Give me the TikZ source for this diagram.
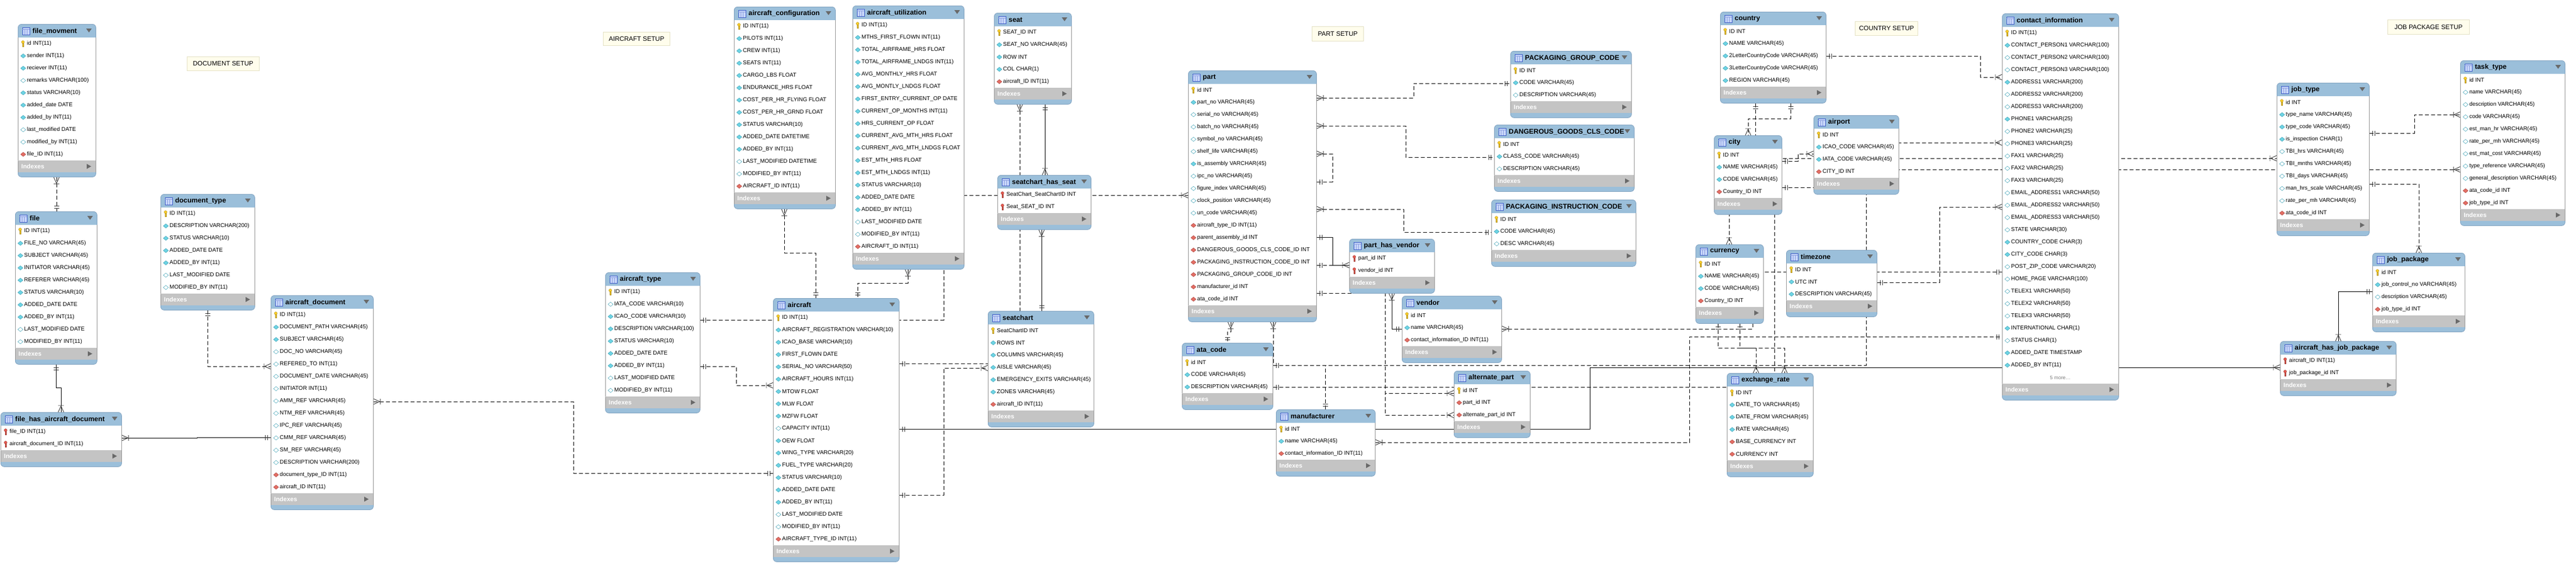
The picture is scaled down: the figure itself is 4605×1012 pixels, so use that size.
\documentclass[tikz,border=0pt]{standalone}
\usepackage{fontspec}
\setmainfont{Liberation Sans}
\usetikzlibrary{calc}
\definecolor{hdrblue}{RGB}{155,191,218}
\definecolor{tblborder}{RGB}{128,162,192}
\definecolor{sideborder}{RGB}{150,150,150}
\definecolor{idxgray}{RGB}{196,196,196}
\definecolor{trigray}{RGB}{105,105,105}
\definecolor{notefill}{RGB}{255,253,236}
\definecolor{noteborder}{RGB}{228,225,196}
\definecolor{keyY}{RGB}{250,205,40}
\definecolor{keyR}{RGB}{228,88,78}
\definecolor{dmN}{RGB}{110,212,228}
\definecolor{dmNd}{RGB}{60,160,180}
\definecolor{dmF}{RGB}{228,110,100}
\definecolor{dmFd}{RGB}{170,70,65}
\definecolor{icnblue}{RGB}{60,90,200}
\definecolor{icnfill}{RGB}{200,215,250}
\definecolor{mkgray}{RGB}{55,55,55}

\pgfdeclarelayer{bgl}
\pgfdeclarelayer{connl}
\pgfsetlayers{bgl,connl,main}

\tikzset{
  tblbox/.style={draw=tblborder, fill=hdrblue, rounded corners=6pt, line width=0.8pt, inner sep=0pt},
  rowtxt/.style={anchor=west, inner sep=0pt, font=\fontsize{10}{12}\selectfont},
  ttltxt/.style={anchor=west, inner sep=0pt, font=\bfseries\fontsize{12.3}{14}\selectfont},
  idxtxt/.style={anchor=west, inner sep=0pt, text=white, font=\bfseries\fontsize{11}{13}\selectfont},
  notebox/.style={draw=noteborder, fill=notefill, line width=0.8pt, inner sep=0pt, font=\fontsize{11.5}{13}\selectfont},
  conn/.style={draw=black, line width=0.9pt},
  connd/.style={conn, dash pattern=on 7pt off 4pt},
  mkline/.style={draw=mkgray, line width=0.9pt, solid},
  ermone/.pic={\draw[mkline] (-6,-4.5) -- (-6,4.5) (-10,-4.5) -- (-10,4.5);},
  ermany/.pic={\draw[mkline] (-11,0) -- (0,-5) (-11,0) -- (0,5) (-12,-5) -- (-12,5);},
}

\newcommand\erKey[3]{%
  \filldraw[fill=#3,draw=#3!70!black,line width=0.4pt] (#1-1.1,#2-1) rectangle (#1+1.1,#2+5);
  \filldraw[fill=#3,draw=#3!70!black,line width=0.4pt] (#1,#2-2.8) circle[radius=2.6];}
\newcommand\erDia[4]{%
  \filldraw[fill=#3,draw=#4,line width=0.5pt] (#1,#2-3.8) -- (#1+4.5,#2) -- (#1,#2+3.8) -- (#1-4.5,#2) -- cycle;}
\newcommand\erRowk[4]{\erKey{#1+9}{#2}{keyY}\node[rowtxt] at (#1+16,#2) {#4};}
\newcommand\erRowr[4]{\erKey{#1+9}{#2}{keyR}\node[rowtxt] at (#1+16,#2) {#4};}
\newcommand\erRown[4]{\erDia{#1+9.5}{#2}{dmN}{dmNd}\node[rowtxt] at (#1+16,#2) {#4};}
\newcommand\erRowo[4]{\erDia{#1+9.5}{#2}{white}{dmNd}\node[rowtxt] at (#1+16,#2) {#4};}
\newcommand\erRowf[4]{\erDia{#1+9.5}{#2}{dmF}{dmFd}\node[rowtxt] at (#1+16,#2) {#4};}
\newcommand\erRowm[4]{\node[rowtxt,anchor=center,text=gray,font=\fontsize{9}{11}\selectfont] at (#1+#3/2,#2) {#4};}

\newcommand\erTable[6]{%
  \foreach \ty/\tx [count=\ii] in {#6} {\xdef\erN{\ii}}%
  \pgfmathsetmacro\erRB{24+22*\erN}%
  \pgfmathsetmacro\erHH{\erRB+29}%
  \node[tblbox, minimum width=#4pt, minimum height=\erHH pt, anchor=north west] (#1) at (#2,#3) {};
  \fill[white] (#2,#3+24) rectangle (#2+#4,#3+\erRB);
  \fill[idxgray] (#2,#3+\erRB) rectangle (#2+#4,#3+\erRB+21);
  \draw[sideborder,line width=0.8pt] (#2,#3+24) -- (#2,#3+\erRB+21) (#2+#4,#3+24) -- (#2+#4,#3+\erRB+21);
  \draw[sideborder!60!white,line width=0.5pt] (#2,#3+\erRB) -- (#2+#4,#3+\erRB);
  \node[idxtxt] at (#2+6,#3+\erRB+10.5) {Indexes};
  \fill[trigray] (#2+#4-16,#3+\erRB+6) -- (#2+#4-8,#3+\erRB+10.5) -- (#2+#4-16,#3+\erRB+15) -- cycle;
  \filldraw[fill=icnfill,draw=icnblue,line width=0.6pt] (#2+8,#3+6) rectangle (#2+21,#3+19);
  \draw[icnblue!60!white,line width=0.4pt] (#2+8,#3+9.5) -- (#2+21,#3+9.5) (#2+12.3,#3+9.5) -- (#2+12.3,#3+19) (#2+16.6,#3+9.5) -- (#2+16.6,#3+19);
  \node[ttltxt] at (#2+26,#3+12.5) {#5};
  \fill[trigray] (#2+#4-17,#3+8) -- (#2+#4-7,#3+8) -- (#2+#4-12,#3+15) -- cycle;
  \foreach \ty/\tx [count=\ii] in {#6} {%
    \pgfmathsetmacro\erYC{#3+24+22*\ii-11}%
    \csname erRow\ty\endcsname{#2}{\erYC}{#4}{\tx}%
  }%
}
\newcommand\mko[2]{\pic[rotate=#2] at #1 {ermone};}
\newcommand\mkm[2]{\pic[rotate=#2] at #1 {ermany};}

\begin{document}
\catcode`\_=12
\begin{tikzpicture}[x=1pt,y=-1pt]
\useasboundingbox (0,0) rectangle (4605,1012);
\begin{pgfonlayer}{bgl}\fill[white] (0,0) rectangle (4605,1012);\end{pgfonlayer}

% ---------------- notes
\node[notebox, minimum width=129pt, minimum height=25pt, anchor=north west] (ndoc) at (334,101) {DOCUMENT SETUP};
\node[notebox, minimum width=119pt, minimum height=24pt, anchor=north west] (nair) at (1078,57) {AIRCRAFT SETUP};
\node[notebox, minimum width=92pt, minimum height=26pt, anchor=north west] (npart) at (2345,47) {PART SETUP};
\node[notebox, minimum width=112pt, minimum height=25pt, anchor=north west] (ncountry) at (3316,38) {COUNTRY SETUP};
\node[notebox, minimum width=146pt, minimum height=26pt, anchor=north west] (njob) at (4268,35) {JOB PACKAGE SETUP};

% ---------------- document setup
\erTable{filemov}{32}{43}{139}{file_movment}{k/id INT(11), n/sender INT(11), n/reciever INT(11), o/remarks VARCHAR(100), n/status VARCHAR(10), n/added_date DATE, n/added_by INT(11), o/last_modified DATE, o/modified_by INT(11), f/file_ID INT(11)}
\erTable{file}{27}{378}{146}{file}{k/ID INT(11), n/FILE_NO VARCHAR(45), n/SUBJECT VARCHAR(45), n/INITIATOR VARCHAR(45), n/REFERER VARCHAR(45), n/STATUS VARCHAR(10), n/ADDED_DATE DATE, n/ADDED_BY INT(11), o/LAST_MODIFIED DATE, o/MODIFIED_BY INT(11)}
\erTable{fhad}{1}{737}{216}{file_has_aircraft_document}{r/file_ID INT(11), r/aircraft_document_ID INT(11)}
\erTable{doctype}{287}{347}{168}{document_type}{k/ID INT(11), n/DESCRIPTION VARCHAR(200), n/STATUS VARCHAR(10), n/ADDED_DATE DATE, n/ADDED_BY INT(11), o/LAST_MODIFIED DATE, o/MODIFIED_BY INT(11)}
\erTable{acdoc}{484}{528}{183}{aircraft_document}{k/ID INT(11), n/DOCUMENT_PATH VARCHAR(45), n/SUBJECT VARCHAR(45), o/DOC_NO VARCHAR(45), o/REFERED_TO INT(11), o/DOCUMENT_DATE VARCHAR(45), o/INITIATOR INT(11), o/AMM_REF VARCHAR(45), o/NTM_REF VARCHAR(45), o/IPC_REF VARCHAR(45), o/CMM_REF VARCHAR(45), o/SM_REF VARCHAR(45), o/DESCRIPTION VARCHAR(200), f/document_type_ID INT(11), f/aircraft_ID INT(11)}

% ---------------- aircraft setup
\erTable{acconf}{1312}{12}{181}{aircraft_configuration}{k/ID INT(11), n/PILOTS INT(11), n/CREW INT(11), n/SEATS INT(11), n/CARGO_LBS FLOAT, n/ENDURANCE_HRS FLOAT, n/COST_PER_HR_FLYING FLOAT, n/COST_PER_HR_GRND FLOAT, n/STATUS VARCHAR(10), n/ADDED_DATE DATETIME, n/ADDED_BY INT(11), o/LAST_MODIFIED DATETIME, o/MODIFIED_BY INT(11), f/AIRCRAFT_ID INT(11)}
\erTable{acutil}{1524}{10}{199}{aircraft_utilization}{k/ID INT(11), n/MTHS_FIRST_FLOWN INT(11), n/TOTAL_AIRFRAME_HRS FLOAT, n/TOTAL_AIRFRAME_LNDGS INT(11), n/AVG_MONTHLY_HRS FLOAT, n/AVG_MONTLY_LNDGS FLOAT, n/FIRST_ENTRY_CURRENT_OP DATE, n/CURRENT_OP_MONTHS INT(11), n/HRS_CURRENT_OP FLOAT, n/CURRENT_AVG_MTH_HRS FLOAT, n/CURRENT_AVG_MTH_LNDGS FLOAT, n/EST_MTH_HRS FLOAT, n/EST_MTH_LNDGS INT(11), n/STATUS VARCHAR(10), n/ADDED_DATE DATE, n/ADDED_BY INT(11), o/LAST_MODIFIED DATE, o/MODIFIED_BY INT(11), f/AIRCRAFT_ID INT(11)}
\erTable{actype}{1082}{487}{169}{aircraft_type}{k/ID INT(11), o/IATA_CODE VARCHAR(10), n/ICAO_CODE VARCHAR(10), n/DESCRIPTION VARCHAR(100), n/STATUS VARCHAR(10), n/ADDED_DATE DATE, n/ADDED_BY INT(11), o/LAST_MODIFIED DATE, o/MODIFIED_BY INT(11)}
\erTable{aircraft}{1382}{533}{225}{aircraft}{k/ID INT(11), n/AIRCRAFT_REGISTRATION VARCHAR(10), n/ICAO_BASE VARCHAR(10), n/FIRST_FLOWN DATE, n/SERIAL_NO VARCHAR(50), n/AIRCRAFT_HOURS INT(11), n/MTOW FLOAT, n/MLW FLOAT, n/MZFW FLOAT, o/CAPACITY INT(11), n/OEW FLOAT, n/WING_TYPE VARCHAR(20), n/FUEL_TYPE VARCHAR(20), n/STATUS VARCHAR(10), n/ADDED_DATE DATE, n/ADDED_BY INT(11), o/LAST_MODIFIED DATE, o/MODIFIED_BY INT(11), f/AIRCRAFT_TYPE_ID INT(11)}
\erTable{seat}{1777}{23}{138}{seat}{k/SEAT_ID INT, n/SEAT_NO VARCHAR(45), n/ROW INT, n/COL CHAR(1), f/aircraft_ID INT(11)}
\erTable{phs}{1783}{313}{167}{seatchart_has_seat}{r/SeatChart_SeatChartID INT, r/Seat_SEAT_ID INT}
\erTable{seatchart}{1766}{556}{189}{seatchart}{k/SeatChartID INT, n/ROWS INT, n/COLUMNS VARCHAR(45), n/AISLE VARCHAR(45), n/EMERGENCY_EXITS VARCHAR(45), n/ZONES VARCHAR(45), f/aircraft_ID INT(11)}

% ---------------- part setup
\erTable{part}{2124}{126}{229}{part}{k/id INT, n/part_no VARCHAR(45), o/serial_no VARCHAR(45), o/batch_no VARCHAR(45), o/symbol_no VARCHAR(45), o/shelf_life VARCHAR(45), n/is_assembly VARCHAR(45), o/ipc_no VARCHAR(45), o/figure_index VARCHAR(45), o/clock_position VARCHAR(45), o/un_code VARCHAR(45), f/aircraft_type_ID INT(11), f/parent_assembly_id INT, f/DANGEROUS_GOODS_CLS_CODE_ID INT, f/PACKAGING_INSTRUCTION_CODE_ID INT, f/PACKAGING_GROUP_CODE_ID INT, f/manufacturer_id INT, f/ata_code_id INT}
\erTable{ata}{2113}{613}{162}{ata_code}{k/id INT, n/CODE VARCHAR(45), n/DESCRIPTION VARCHAR(45)}
\erTable{pgc}{2700}{91}{216}{PACKAGING_GROUP_CODE}{k/ID INT, n/CODE VARCHAR(45), o/DESCRIPTION VARCHAR(45)}
\erTable{dgcc}{2671}{223}{250}{DANGEROUS_GOODS_CLS_CODE}{k/ID INT, n/CLASS_CODE VARCHAR(45), o/DESCRIPTION VARCHAR(45)}
\erTable{pic}{2666}{357}{258}{PACKAGING_INSTRUCTION_CODE}{k/ID INT, n/CODE VARCHAR(45), o/DESC VARCHAR(45)}
\erTable{phv}{2412}{427}{152}{part_has_vendor}{r/part_id INT, r/vendor_id INT}
\erTable{vendor}{2506}{529}{178}{vendor}{k/id INT, n/name VARCHAR(45), f/contact_information_ID INT(11)}
\erTable{altpart}{2599}{663}{136}{alternate_part}{k/id INT, f/part_id INT, f/alternate_part_id INT}
\erTable{manuf}{2281}{732}{177}{manufacturer}{k/id INT, n/name VARCHAR(45), f/contact_information_ID INT(11)}

% ---------------- country setup
\erTable{country}{3075}{21}{189}{country}{k/ID INT, n/NAME VARCHAR(45), n/2LetterCountryCode VARCHAR(45), n/3LetterCountryCode VARCHAR(45), n/REGION VARCHAR(45)}
\erTable{city}{3064}{242}{121}{city}{k/ID INT, n/NAME VARCHAR(45), n/CODE VARCHAR(45), f/Country_ID INT}
\erTable{airport}{3242}{206}{152}{airport}{k/ID INT, n/ICAO_CODE VARCHAR(45), n/IATA_CODE VARCHAR(45), f/CITY_ID INT}
\erTable{currency}{3031}{437}{121}{currency}{k/ID INT, n/NAME VARCHAR(45), n/CODE VARCHAR(45), f/Country_ID INT}
\erTable{timezone}{3193}{447}{162}{timezone}{k/ID INT, n/UTC INT, n/DESCRIPTION VARCHAR(45)}
\erTable{exrate}{3087}{667}{154}{exchange_rate}{k/ID INT, n/DATE_TO VARCHAR(45), n/DATE_FROM VARCHAR(45), n/RATE VARCHAR(45), f/BASE_CURRENCY INT, f/CURRENCY INT}
\erTable{contact}{3579}{24}{208}{contact_information}{k/ID INT(11), n/CONTACT_PERSON1 VARCHAR(100), o/CONTACT_PERSON2 VARCHAR(100), o/CONTACT_PERSON3 VARCHAR(100), n/ADDRESS1 VARCHAR(200), o/ADDRESS2 VARCHAR(200), o/ADDRESS3 VARCHAR(200), n/PHONE1 VARCHAR(25), o/PHONE2 VARCHAR(25), o/PHONE3 VARCHAR(25), o/FAX1 VARCHAR(25), o/FAX2 VARCHAR(25), o/FAX3 VARCHAR(25), o/EMAIL_ADDRESS1 VARCHAR(50), o/EMAIL_ADDRESS2 VARCHAR(50), o/EMAIL_ADDRESS3 VARCHAR(50), o/STATE VARCHAR(30), n/COUNTRY_CODE CHAR(3), n/CITY_CODE CHAR(3), o/POST_ZIP_CODE VARCHAR(20), o/HOME_PAGE VARCHAR(100), o/TELEX1 VARCHAR(50), o/TELEX2 VARCHAR(50), o/TELEX3 VARCHAR(50), n/INTERNATIONAL CHAR(1), o/STATUS CHAR(1), n/ADDED_DATE TIMESTAMP, n/ADDED_BY INT(11), m/5 more\ldots}

% ---------------- job package setup
\erTable{jobtype}{4070}{148}{165}{job_type}{k/id INT, n/type_name VARCHAR(45), n/type_code VARCHAR(45), n/is_inspection CHAR(1), o/TBI_hrs VARCHAR(45), o/TBI_mnths VARCHAR(45), o/TBI_days VARCHAR(45), o/man_hrs_scale VARCHAR(45), o/rate_per_mh VARCHAR(45), f/ata_code_id INT}
\erTable{tasktype}{4398}{108}{187}{task_type}{k/id INT, o/name VARCHAR(45), o/description VARCHAR(45), o/code VARCHAR(45), o/est_man_hr VARCHAR(45), o/rate_per_mh VARCHAR(45), o/est_mat_cost VARCHAR(45), o/type_reference VARCHAR(45), o/general_description VARCHAR(45), f/ata_code_id INT, f/job_type_id INT}
\erTable{jobpkg}{4241}{452}{165}{job_package}{k/id INT, n/job_control_no VARCHAR(45), o/description VARCHAR(45), f/job_type_id INT}
\erTable{ahjp}{4076}{610}{207}{aircraft_has_job_package}{r/aircraft_ID INT(11), r/job_package_id INT}

% ---------------- connectors
\begin{pgfonlayer}{connl}
% document setup
\draw[connd] (filemov.south -| 101,0) -- (file.north -| 101,0);
\mkm{(filemov.south -| 101,0)}{90} \mko{(file.north -| 101,0)}{-90}
\draw[conn] (file.south -| 100,0) -- (100,693) -- (109,693) -- (fhad.north -| 109,0);
\mko{(file.south -| 100,0)}{90} \mkm{(fhad.north -| 109,0)}{-90}
\draw[conn] (fhad.east |- 0,783) -- (352,783) -- (352,782) -- (acdoc.west |- 0,782);
\mkm{(fhad.east |- 0,783)}{180} \mko{(acdoc.west |- 0,782)}{0}
\draw[connd] (doctype.south -| 371,0) -- (371,655) -- (acdoc.west |- 0,655);
\mko{(doctype.south -| 371,0)}{90} \mkm{(acdoc.west |- 0,655)}{0}
\draw[connd] (acdoc.east |- 0,718) -- (1025,718) -- (1025,846) -- (aircraft.west |- 0,846);
\mkm{(acdoc.east |- 0,718)}{180} \mko{(aircraft.west |- 0,846)}{0}
% aircraft setup
\draw[connd] (actype.east |- 0,655) -- (1316,655) -- (1316,689) -- (aircraft.west |- 0,689);
\mko{(actype.east |- 0,655)}{180} \mkm{(aircraft.west |- 0,689)}{0}
\draw[connd] (actype.east |- 0,572) -- (1687,572) -- (1687,349) -- (part.west |- 0,349);
\mko{(actype.east |- 0,572)}{180} \mkm{(part.west |- 0,349)}{0}
\draw[connd] (acconf.south -| 1402,0) -- (1402,452) -- (1458,452) -- (aircraft.north -| 1458,0);
\mkm{(acconf.south -| 1402,0)}{90} \mko{(aircraft.north -| 1458,0)}{-90}
\draw[connd] (acutil.south -| 1623,0) -- (1623,506) -- (1533,506) -- (aircraft.north -| 1533,0);
\mkm{(acutil.south -| 1623,0)}{90} \mko{(aircraft.north -| 1533,0)}{-90}
\draw[connd] (aircraft.east |- 0,650) -- (1823,650) -- (seat.south -| 1823,0);
\mko{(aircraft.east |- 0,650)}{180} \mkm{(seat.south -| 1823,0)}{90}
\draw[connd] (aircraft.east |- 0,885) -- (1687,885) -- (1687,658) -- (seatchart.west |- 0,658);
\mko{(aircraft.east |- 0,885)}{180} \mkm{(seatchart.west |- 0,658)}{0}
\draw[conn] (seat.south -| 1868,0) -- (phs.north -| 1868,0);
\mko{(seat.south -| 1868,0)}{90} \mkm{(phs.north -| 1868,0)}{-90}
\draw[conn] (seatchart.north -| 1862,0) -- (phs.south -| 1862,0);
\mko{(seatchart.north -| 1862,0)}{-90} \mkm{(phs.south -| 1862,0)}{90}
\draw[conn] (aircraft.east |- 0,767) -- (2842,767) -- (2842,657) -- (ahjp.west |- 0,657);
\mko{(aircraft.east |- 0,767)}{180} \mkm{(ahjp.west |- 0,657)}{0}
% part setup
\draw[connd] (part.east |- 0,175) -- (2527,175) -- (2527,149) -- (pgc.west |- 0,149);
\mkm{(part.east |- 0,175)}{180} \mko{(pgc.west |- 0,149)}{0}
\draw[connd] (part.east |- 0,225) -- (2513,225) -- (2513,281) -- (dgcc.west |- 0,281);
\mkm{(part.east |- 0,225)}{180} \mko{(dgcc.west |- 0,281)}{0}
\draw[connd] (part.east |- 0,374) -- (2509,374) -- (2509,415) -- (pic.west |- 0,415);
\mkm{(part.east |- 0,374)}{180} \mko{(pic.west |- 0,415)}{0}
\draw[connd] (part.east |- 0,275) -- (2382,275) -- (2382,325) -- (part.east |- 0,325);
\mkm{(part.east |- 0,275)}{180} \mko{(part.east |- 0,325)}{180}
\draw[conn] (part.east |- 0,424) -- (2382,424) -- (2382,474) -- (phv.west |- 0,474);
\mko{(part.east |- 0,424)}{180} \mkm{(phv.west |- 0,474)}{0}
\draw[connd] (part.east |- 0,474) -- (phv.west |- 0,474);
\mko{(part.east |- 0,474)}{180}
\draw[conn] (vendor.west |- 0,588) -- (2488,588) -- (phv.south -| 2488,0);
\mko{(vendor.west |- 0,588)}{0} \mkm{(phv.south -| 2488,0)}{90}
\draw[connd] (part.east |- 0,524) -- (2476,524) -- (2476,703) -- (altpart.west |- 0,703);
\draw[connd] (part.east |- 0,524) -- (2476,524) -- (2476,742) -- (altpart.west |- 0,742);
\mko{(part.east |- 0,524)}{180} \mkm{(altpart.west |- 0,703)}{0} \mkm{(altpart.west |- 0,742)}{0}
\draw[connd] (part.south -| 2200,0) -- (2200,593) -- (2194,593) -- (ata.north -| 2194,0);
\mkm{(part.south -| 2200,0)}{90} \mko{(ata.north -| 2194,0)}{-90}
\draw[connd] (part.south -| 2276,0) -- (2276,653) -- (2369,653) -- (manuf.north -| 2369,0);
\mkm{(part.south -| 2276,0)}{90} \mko{(manuf.north -| 2369,0)}{-90}
\draw[connd] (ata.east |- 0,692) -- (3172,692) -- (3172,283) -- (jobtype.west |- 0,283);
\mko{(ata.east |- 0,692)}{180} \mkm{(jobtype.west |- 0,283)}{0}
\draw[connd] (ata.east |- 0,653) -- (3336,653) -- (3336,303) -- (tasktype.west |- 0,303);
\mko{(ata.east |- 0,653)}{180} \mkm{(tasktype.west |- 0,303)}{0}
\draw[connd] (vendor.east |- 0,588) -- (3133,588) -- (3133,486) -- (contact.west |- 0,486);
\mkm{(vendor.east |- 0,588)}{180} \mko{(contact.west |- 0,486)}{0}
\draw[connd] (manuf.east |- 0,791) -- (3020,791) -- (3020,602) -- (contact.west |- 0,602);
\mkm{(manuf.east |- 0,791)}{180} \mko{(contact.west |- 0,602)}{0}
% country setup
\draw[connd] (country.east |- 0,100) -- (3540,100) -- (3540,138) -- (contact.west |- 0,138);
\mko{(country.east |- 0,100)}{180} \mkm{(contact.west |- 0,138)}{0}
\draw[connd] (country.south -| 3201,0) -- (3201,212) -- (3125,212) -- (city.north -| 3125,0);
\mko{(country.south -| 3201,0)}{90} \mkm{(city.north -| 3125,0)}{-90}
\draw[connd] (country.south -| 3138,0) -- (3138,300) -- (3091,300) -- (currency.north -| 3091,0);
\mko{(country.south -| 3138,0)}{90} \mkm{(currency.north -| 3091,0)}{-90}
\draw[connd] (city.east |- 0,288) -- (3214,288) -- (3214,275) -- (airport.west |- 0,275);
\mko{(city.east |- 0,288)}{180} \mkm{(airport.west |- 0,275)}{0}
\draw[connd] (city.east |- 0,335) -- (3320,335) -- (3320,255) -- (contact.west |- 0,255);
\mko{(city.east |- 0,335)}{180} \mkm{(contact.west |- 0,255)}{0}
\draw[connd] (timezone.east |- 0,505) -- (3467,505) -- (3467,370) -- (contact.west |- 0,370);
\mko{(timezone.east |- 0,505)}{180} \mkm{(contact.west |- 0,370)}{0}
\draw[connd] (currency.south -| 3071,0) -- (3071,622) -- (3139,622) -- (exrate.north -| 3139,0);
\mko{(currency.south -| 3071,0)}{90} \mkm{(exrate.north -| 3139,0)}{-90}
\draw[connd] (currency.south -| 3110,0) -- (3110,622) -- (3190,622) -- (exrate.north -| 3190,0);
\mko{(currency.south -| 3110,0)}{90} \mkm{(exrate.north -| 3190,0)}{-90}
% job package setup
\draw[connd] (jobtype.east |- 0,238) -- (4316,238) -- (4316,205) -- (tasktype.west |- 0,205);
\mko{(jobtype.east |- 0,238)}{180} \mkm{(tasktype.west |- 0,205)}{0}
\draw[connd] (jobtype.east |- 0,329) -- (4324,329) -- (jobpkg.north -| 4324,0);
\mko{(jobtype.east |- 0,329)}{180} \mkm{(jobpkg.north -| 4324,0)}{-90}
\draw[conn] (jobpkg.west |- 0,521) -- (4180,521) -- (ahjp.north -| 4180,0);
\mko{(jobpkg.west |- 0,521)}{0} \mkm{(ahjp.north -| 4180,0)}{-90}
\end{pgfonlayer}
\end{tikzpicture}
\end{document}
